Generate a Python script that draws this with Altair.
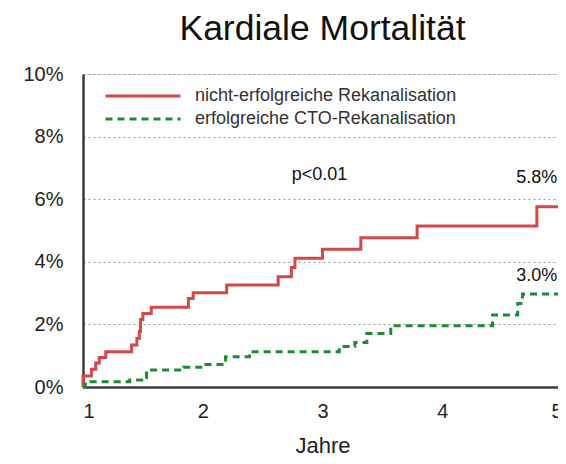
import altair as alt
import pandas as pd

# --- data (percent values) ---
series_names = ["nicht-erfolgreiche Rekanalisation", "erfolgreiche CTO-Rekanalisation"]

red_years = [1.0, 1.0, 1.07, 1.106, 1.136, 1.19, 1.406, 1.45, 1.47, 1.48, 1.50, 1.57,
             1.88, 1.92, 2.20, 2.63, 2.74, 2.77, 3.00, 3.32, 3.79, 4.79, 5.0]
red_vals = [0.0, 0.35, 0.57, 0.77, 0.94, 1.13, 1.34, 1.55, 1.77, 2.16, 2.35, 2.55,
            2.83, 3.01, 3.26, 3.52, 3.82, 4.11, 4.40, 4.77, 5.14, 5.76, 5.76]

green_years = [1.0, 1.02, 1.39, 1.49, 1.53, 1.84, 2.01, 2.19, 2.39, 3.14, 3.27, 3.37,
               3.57, 4.42, 4.63, 4.67, 5.0]
green_vals = [0.0, 0.17, 0.22, 0.30, 0.54, 0.63, 0.72, 0.97, 1.13, 1.29, 1.42, 1.71,
              1.96, 2.30, 2.67, 2.97, 2.97]

y_ticks = [0, 2, 4, 6, 8, 10]
x_ticks = [1, 2, 3, 4, 5]

annot_text = ["5.8%", "3.0%", "p<0.01"]
annot_x = [4.79, 4.79, 2.975]
annot_y = [6.69, 3.55, 6.78]

RED = "#d5484a"
GREEN = "#1f8a34"
DASH = [7, 5]
FONT = "Liberation Sans"

df_red = pd.DataFrame({"Jahr": red_years, "Wert": red_vals, "Gruppe": series_names[0],
                       "ord": range(len(red_years))})
df_green = pd.DataFrame({"Jahr": green_years, "Wert": green_vals, "Gruppe": series_names[1],
                         "ord": range(len(green_years))})
ann = pd.DataFrame({"t": annot_text, "x": annot_x, "y": annot_y})

x_scale = alt.Scale(domain=[1, 5], nice=False, zero=False)
y_scale = alt.Scale(domain=[0, 10], nice=False)

x_enc = alt.X("Jahr:Q", scale=x_scale,
              axis=alt.Axis(values=x_ticks, format="d", title="Jahre", grid=False, ticks=False,
                            labelFontSize=20, labelPadding=14, titleFontSize=22,
                            titlePadding=14, titleFontWeight="normal",
                            domainColor="#3a3a3a", domainWidth=2.5,
                            labelColor="#222", titleColor="#222"))
y_enc = alt.Y("Wert:Q", scale=y_scale,
              axis=alt.Axis(values=y_ticks, title=None, ticks=False,
                            labelExpr="datum.value + '%'", labelFontSize=20,
                            labelPadding=20, labelColor="#222",
                            domainColor="#3a3a3a", domainWidth=2.5,
                            grid=True, gridDash=[2, 3], gridColor="#999", gridWidth=1))


def legend(ypos, dash=None):
    kw = dict(title=None, orient="none", legendX=21, legendY=ypos,
              symbolType="stroke", symbolSize=5625, symbolStrokeWidth=3,
              labelFontSize=18, labelColor="#333", labelOffset=13, labelLimit=400)
    if dash:
        kw["symbolDash"] = dash
    return alt.Legend(**kw)


red_line = alt.Chart(df_red).mark_line(interpolate="step-after", strokeWidth=3).encode(
    x=x_enc, y=y_enc,
    color=alt.Color("Gruppe:N", scale=alt.Scale(domain=[series_names[0]], range=[RED]),
                    legend=legend(-17)),
    order="ord:Q",
)

green_line = alt.Chart(df_green).mark_line(interpolate="step-after", strokeWidth=3,
                                           strokeDash=DASH).encode(
    x=x_enc, y=y_enc,
    color=alt.Color("Gruppe:N", scale=alt.Scale(domain=[series_names[1]], range=[GREEN]),
                    legend=legend(6, DASH)),
    order="ord:Q",
)

texts = alt.Chart(ann).mark_text(fontSize=18, color="#111", font=FONT).encode(
    x=alt.X("x:Q", scale=x_scale),
    y=alt.Y("y:Q", scale=y_scale),
    text="t:N",
)

chart = alt.layer(red_line, green_line, texts).resolve_scale(
    color="independent"
).resolve_legend(color="independent").properties(
    width=479, height=313,
    title=alt.TitleParams("Kardiale Mortalität", fontSize=35.5, fontWeight="normal",
                          color="#111", font=FONT, offset=10),
    autosize=alt.AutoSizeParams(type="none"),
    padding={"left": 75, "top": 66, "right": -4, "bottom": 69},
).configure_view(stroke=None).configure(font=FONT)

chart.save("out.html", embed_options={"renderer": "svg", "actions": False})
